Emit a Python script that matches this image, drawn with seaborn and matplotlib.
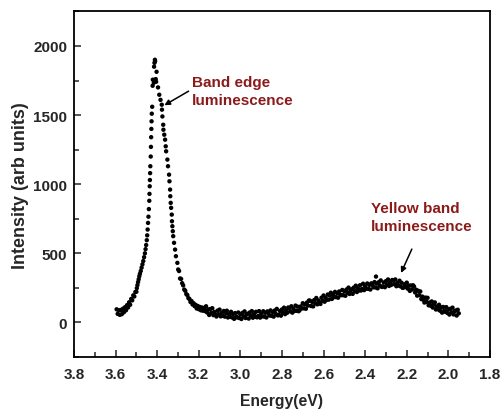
import matplotlib
matplotlib.use("Agg")
import matplotlib.pyplot as plt
import seaborn as sns
import pandas as pd
from matplotlib.ticker import MultipleLocator

# high-energy shoulder of the band-edge peak
left_e = [3.595, 3.590, 3.585, 3.580, 3.575, 3.570, 3.565, 3.560, 3.555, 3.550,
          3.545, 3.540, 3.535, 3.530, 3.525, 3.520, 3.515, 3.510, 3.505, 3.500]
left_i = [95, 62, 88, 55, 90, 60, 99, 74, 110, 88,
          125, 108, 146, 128, 170, 160, 196, 188, 220, 222]

# rising edge of the peak
rise_e = [3.498, 3.495, 3.492, 3.489, 3.486, 3.483, 3.479, 3.475, 3.471, 3.467,
          3.463, 3.459, 3.456, 3.453, 3.450, 3.448, 3.446, 3.444, 3.442, 3.440,
          3.438, 3.437, 3.436, 3.435, 3.434, 3.433, 3.431, 3.430, 3.429, 3.428,
          3.427, 3.426]
rise_i = [248, 270, 292, 312, 334, 352, 372, 396, 420, 444,
          472, 500, 530, 560, 595, 630, 672, 720, 765, 820,
          880, 930, 985, 1030, 1080, 1130, 1200, 1270, 1340, 1400,
          1455, 1510]

# top of the peak
peak_e = [3.424, 3.422, 3.421, 3.416, 3.415, 3.413, 3.411, 3.410, 3.407, 3.405, 3.403]
peak_i = [1560, 1712, 1756, 1734, 1850, 1878, 1900, 1890, 1760, 1741, 1813]

# falling edge
fall_e = [3.396, 3.390, 3.384, 3.378, 3.377, 3.375, 3.371, 3.370, 3.366, 3.362,
          3.359, 3.357, 3.351, 3.348, 3.343, 3.341, 3.338, 3.337, 3.335, 3.333,
          3.330, 3.329, 3.327, 3.325, 3.323, 3.319, 3.314, 3.310, 3.303, 3.299]
fall_i = [1700, 1647, 1610, 1575, 1539, 1490, 1430, 1394, 1358, 1322,
          1274, 1238, 1178, 1130, 1069, 1021, 961, 913, 865, 829,
          780, 732, 696, 660, 624, 576, 527, 479, 431, 383]

tail_e = [3.295, 3.290, 3.285, 3.280, 3.275, 3.270, 3.265, 3.260, 3.255, 3.250,
          3.245, 3.240, 3.235, 3.230, 3.225, 3.220, 3.215, 3.210, 3.205, 3.200,
          3.195, 3.190, 3.185, 3.180, 3.175, 3.170]
tail_i = [372, 318, 315, 284, 268, 238, 229, 205, 198, 176,
          170, 148, 155, 130, 139, 118, 127, 101, 119, 96,
          112, 88, 108, 85, 105, 82]

# background + yellow band
band_e = [3.165, 3.160, 3.155, 3.150, 3.145, 3.140, 3.135, 3.130, 3.125, 3.120,
          3.115, 3.110, 3.105, 3.100, 3.095, 3.090, 3.085, 3.080, 3.075, 3.070,
          3.065, 3.060, 3.055, 3.050, 3.045, 3.040, 3.035, 3.030, 3.025, 3.020,
          3.015, 3.010, 3.005, 3.000, 2.995, 2.990, 2.985, 2.980, 2.975, 2.970,
          2.965, 2.960, 2.955, 2.950, 2.945, 2.940, 2.935, 2.930, 2.925, 2.920,
          2.915, 2.910, 2.905, 2.900, 2.895, 2.890, 2.885, 2.880, 2.875, 2.870,
          2.865, 2.860, 2.855, 2.850, 2.845, 2.840, 2.835, 2.830, 2.825, 2.820,
          2.815, 2.810, 2.805, 2.800, 2.795, 2.790, 2.785, 2.780, 2.775, 2.770,
          2.765, 2.760, 2.755, 2.750, 2.745, 2.740, 2.735, 2.730, 2.725, 2.720,
          2.715, 2.710, 2.705, 2.700, 2.695, 2.690, 2.685, 2.680, 2.675, 2.670,
          2.665, 2.660, 2.655, 2.650, 2.645, 2.640, 2.635, 2.630, 2.625, 2.620,
          2.615, 2.610, 2.605, 2.600, 2.595, 2.590, 2.585, 2.580, 2.575, 2.570,
          2.565, 2.560, 2.555, 2.550, 2.545, 2.540, 2.535, 2.530, 2.525, 2.520,
          2.515, 2.510, 2.505, 2.500, 2.495, 2.490, 2.485, 2.480, 2.475, 2.470,
          2.465, 2.460, 2.455, 2.450, 2.445, 2.440, 2.435, 2.430, 2.425, 2.420,
          2.415, 2.410, 2.405, 2.400, 2.395, 2.390, 2.385, 2.380, 2.375, 2.370,
          2.365, 2.360, 2.355, 2.350, 2.345, 2.340, 2.335, 2.330, 2.325, 2.320,
          2.315, 2.310, 2.305, 2.300, 2.295, 2.290, 2.285, 2.280, 2.275, 2.270,
          2.265, 2.260, 2.255, 2.250, 2.245, 2.240, 2.235, 2.230, 2.225, 2.220,
          2.215, 2.210, 2.205, 2.200, 2.195, 2.190, 2.185, 2.180, 2.175, 2.170,
          2.165, 2.160, 2.155, 2.150, 2.145, 2.140, 2.135, 2.130, 2.125, 2.120,
          2.115, 2.110, 2.105, 2.100, 2.095, 2.090, 2.085, 2.080, 2.075, 2.070,
          2.065, 2.060, 2.055, 2.050, 2.045, 2.040, 2.035, 2.030, 2.025, 2.020,
          2.015, 2.010, 2.005, 2.000, 1.995, 1.990, 1.985, 1.980, 1.975, 1.970,
          1.965, 1.960, 1.955, 1.950]
band_i = [117, 72, 94, 54, 97, 70, 103, 53, 76, 56,
          43, 85, 59, 93, 44, 68, 48, 83, 42, 68,
          85, 36, 60, 41, 77, 36, 62, 26, 68, 42,
          36, 72, 32, 59, 25, 69, 44, 80, 32, 58,
          63, 28, 72, 47, 82, 34, 59, 41, 77, 37,
          47, 82, 35, 61, 44, 81, 42, 70, 36, 80,
          67, 50, 87, 48, 76, 42, 86, 62, 98, 51,
          55, 83, 49, 94, 70, 107, 60, 87, 70, 108,
          104, 80, 117, 71, 99, 83, 122, 84, 114, 81,
          89, 116, 101, 139, 102, 131, 99, 144, 122, 159,
          157, 119, 149, 116, 162, 139, 177, 131, 159, 143,
          134, 179, 157, 195, 150, 178, 163, 202, 165, 195,
          215, 170, 198, 183, 221, 183, 212, 179, 224, 201,
          197, 235, 197, 226, 193, 238, 215, 252, 206, 233,
          240, 207, 252, 229, 266, 220, 247, 231, 269, 231,
          243, 280, 234, 261, 244, 282, 243, 272, 238, 283,
          271, 254, 292, 253, 281, 247, 291, 268, 304, 257,
          261, 289, 255, 299, 275, 311, 264, 289, 271, 307,
          302, 277, 311, 262, 286, 267, 302, 261, 287, 250,
          253, 276, 256, 288, 244, 267, 228, 267, 238, 269,
          260, 217, 237, 194, 229, 197, 224, 169, 187, 163,
          144, 180, 149, 178, 124, 144, 121, 152, 108, 131,
          145, 94, 116, 95, 128, 85, 109, 71, 112, 85,
          77, 111, 69, 94, 57, 99, 73, 107, 58, 82,
          86, 50, 92, 66]

stray_e = [2.348]
stray_i = [332]

xtick_labels = ["3.8", "3.6", "3.4", "3.2", "3.0", "2.8", "2.6", "2.4", "2.2", "2.0", "1.8"]

energy = left_e + rise_e + peak_e + fall_e + tail_e + band_e + stray_e
intensity = left_i + rise_i + peak_i + fall_i + tail_i + band_i + stray_i
df = pd.DataFrame({"Energy": energy, "Intensity": intensity})

sns.set_style("ticks", {"axes.spines.top": True, "axes.spines.right": True})
plt.rcParams["font.family"] = ["Liberation Sans", "DejaVu Sans"]
plt.rcParams["font.weight"] = "bold"

fig = plt.figure(figsize=(5.02, 4.10), dpi=100)
ax = fig.add_axes([0.1474, 0.1268, 0.8286, 0.843])

sns.scatterplot(data=df, x="Energy", y="Intensity", ax=ax, color="black",
                s=10, linewidth=0, edgecolor="none")

ax.set_xlim(3.8, 1.8)
ax.set_ylim(-250, 2250)
ax.xaxis.set_minor_locator(MultipleLocator(0.1))
ax.yaxis.set_minor_locator(MultipleLocator(250))
ax.set_xticks([float(t) for t in xtick_labels])
ax.set_xticklabels(xtick_labels)
ax.set_yticks([0, 500, 1000, 1500, 2000])

ax.tick_params(which="both", direction="in", width=1.1, labelsize=11)
ax.tick_params(axis="x", which="major", pad=7)
ax.tick_params(axis="y", which="major", pad=5)
ax.tick_params(which="major", length=5)
ax.tick_params(which="minor", length=3.5)
for lab in ax.get_xticklabels() + ax.get_yticklabels():
    lab.set_fontweight("bold")
for name in ["left", "right", "top", "bottom"]:
    sp = ax.spines[name]
    sp.set_visible(True)
    sp.set_linewidth(1.3)
    sp.set_color("black")
    sp.set_zorder(5)

ax.set_xlabel("Energy(eV)", fontsize=11.3, fontweight="bold", labelpad=9)
ax.set_ylabel("Intensity (arb units)", fontsize=13, fontweight="bold", labelpad=3)

red = "#8b1a1a"
ax.text(3.233, 1790, "Band edge\nluminescence", color=red, fontsize=11,
        fontweight="bold", ha="left", va="top", linespacing=1.35)
ax.annotate("", xy=(3.377, 1561), xytext=(3.2375, 1683),
            arrowprops=dict(arrowstyle="-|>", color="black", lw=1.1,
                            mutation_scale=8))
ax.text(2.373, 875, "Yellow band\nluminescence", color=red, fontsize=11,
        fontweight="bold", ha="left", va="top", linespacing=1.35)
ax.annotate("", xy=(2.233, 340), xytext=(2.170, 549),
            arrowprops=dict(arrowstyle="-|>", color="black", lw=1.1,
                            mutation_scale=8))

fig.savefig("out.png", dpi=100)
